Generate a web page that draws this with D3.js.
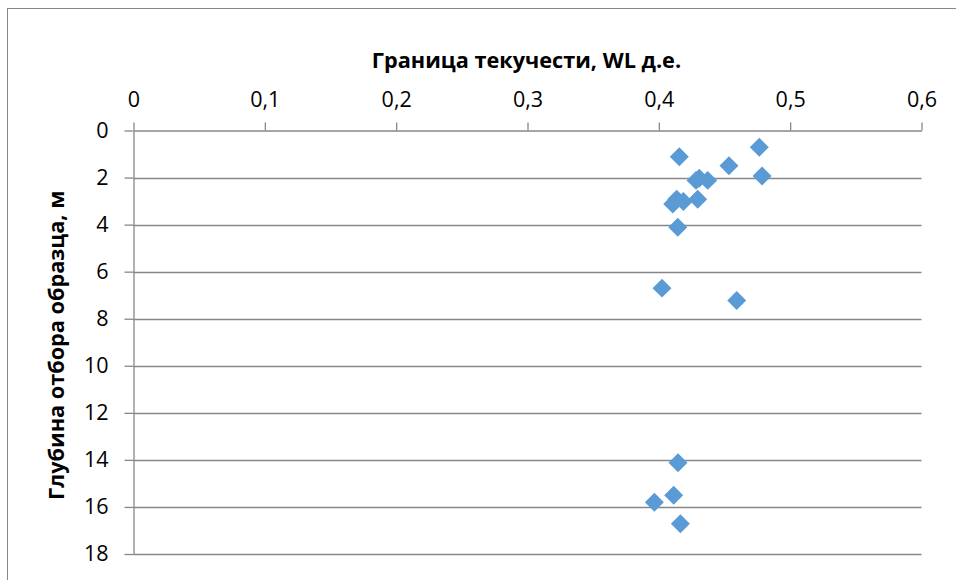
<!DOCTYPE html>
<html><head><meta charset="utf-8">
<script src="https://cdn.jsdelivr.net/npm/d3@7"></script>
<style>body{margin:0;background:#fff}svg{display:block}</style>
</head><body>
<svg id="c" width="956" height="580"></svg>
<script>
const wl = [0.4156,0.4765,0.4534,0.4786,0.4308,0.4283,0.4372,0.4136,0.4106,0.4187,0.4296,0.4144,0.4024,0.4593,0.4146,0.4113,0.3966,0.4164];
const depth = [1.12,0.71,1.50,1.93,2.03,2.12,2.12,2.92,3.12,3.02,2.92,4.11,6.70,7.23,14.12,15.50,15.80,16.71];
const xTicks = [0,0.1,0.2,0.3,0.4,0.5,0.6];
const yTicks = [0,2,4,6,8,10,12,14,16,18];
const xTitle = "Граница текучести, WL д.е.";
const yTitle = "Глубина отбора образца, м";

const svg = d3.select("#c");
const W=956,H=580;
const L=133.5,R=921.5,T=130.5,B=554;
const font="'Open Sans', 'DejaVu Sans', sans-serif";
const grid="#878787";

svg.append("rect").attr("x",7.5).attr("y",8.5).attr("width",W).attr("height",H).attr("fill","#fff").attr("stroke",grid).attr("stroke-width",1);

const x=d3.scaleLinear().domain([0,0.6]).range([L,R]);
const y=d3.scaleLinear().domain([0,18]).range([T,B]);
const fmt=d=>String(d).replace(".",",");

svg.append("g").selectAll("line").data(yTicks.filter(d=>d>0)).join("line")
  .attr("x1",L).attr("x2",R).attr("y1",d=>Math.round(y(d))+0.5).attr("y2",d=>Math.round(y(d))+0.5)
  .attr("stroke",grid).attr("stroke-width",1.3);

const gx=svg.append("g").attr("transform",`translate(0,${T})`)
  .call(d3.axisTop(x).tickValues(xTicks).tickFormat(fmt).tickSize(8).tickPadding(16).tickSizeOuter(0));
gx.select(".domain").attr("stroke",grid).attr("stroke-width",1.3);
gx.selectAll(".tick line").attr("stroke",grid).attr("stroke-width",1.3);
gx.selectAll(".tick text").attr("font-family",font).attr("font-size",21.5).attr("fill","#000");

const gy=svg.append("g").attr("transform",`translate(${L},0)`)
  .call(d3.axisLeft(y).tickValues(yTicks).tickFormat(fmt).tickSize(9).tickPadding(16).tickSizeOuter(0));
gy.select(".domain").attr("stroke",grid).attr("stroke-width",1.3);
gy.selectAll(".tick line").attr("stroke",grid).attr("stroke-width",1.3);
gy.selectAll(".tick text").attr("font-family",font).attr("font-size",21.5).attr("fill","#000");

const sym=d3.symbol().type(d3.symbolSquare).size(180);
svg.append("g").selectAll("path").data(wl.map((v,i)=>[v,depth[i]])).join("path")
  .attr("d",sym).attr("transform",d=>`translate(${x(d[0])},${y(d[1])}) rotate(45)`)
  .attr("fill","#5B9BD5");

svg.append("text").attr("x",(L+R)/2-1).attr("y",68).attr("text-anchor","middle")
  .attr("font-family",font).attr("font-weight","bold").attr("font-size",21.7).attr("fill","#000").text(xTitle);
svg.append("text").attr("transform",`translate(64,${(T+B)/2+3}) rotate(-90)`).attr("text-anchor","middle")
  .attr("font-family",font).attr("font-weight","bold").attr("font-size",21.7).attr("fill","#000").text(yTitle);
</script>
</body></html>
